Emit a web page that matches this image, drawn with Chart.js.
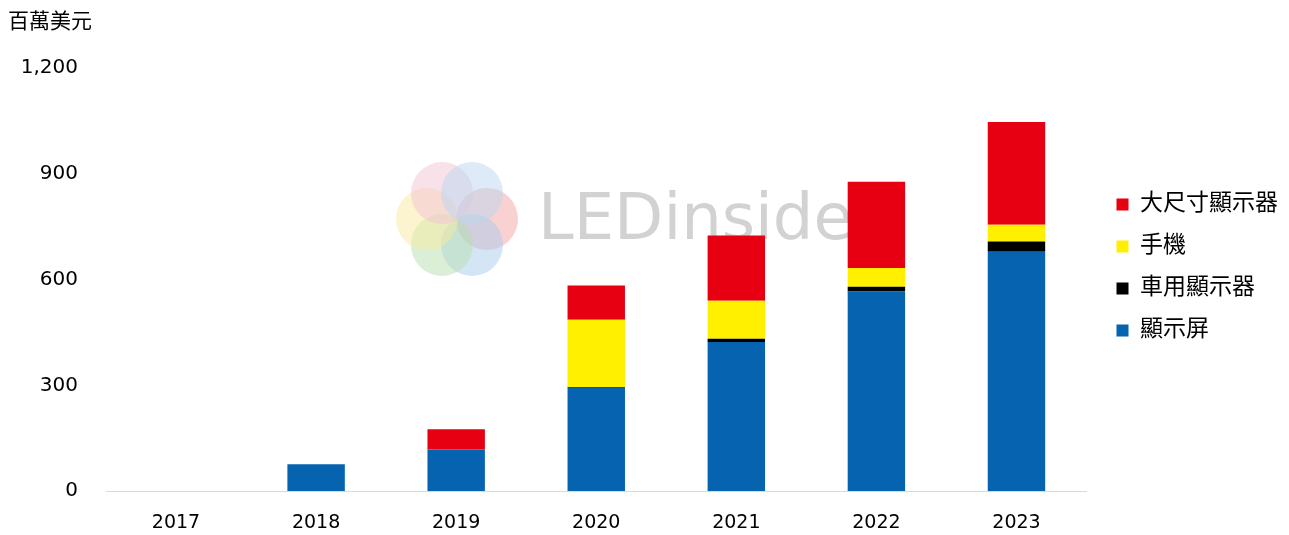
<!DOCTYPE html>
<html>
<head>
<meta charset="utf-8">
<script src="https://cdn.jsdelivr.net/npm/chart.js@4"></script>
<style>
  body { margin: 0; background: #fff; }
  #wrap { width: 1289px; height: 535px; }
</style>
</head>
<body>
<div id="wrap"><canvas id="myChart" width="1289" height="535"></canvas></div>
<script>
// data (million USD)
const years = ['2017', '2018', '2019', '2020', '2021', '2022', '2023'];
const displayScreen = [0, 76, 118, 293, 423, 566, 679];   // 顯示屏
const carDisplay = [0, 0, 0, 2, 9, 14, 29];               // 車用顯示器
const phone = [0, 0, 0, 191, 108, 53, 48];                // 手機
const largeDisplay = [0, 0, 57, 97, 185, 245, 291];       // 大尺寸顯示器
const yTicks = [0, 300, 600, 900, 1200];

const cjk = '"DejaVu Sans", "Noto Sans CJK TC", sans-serif';

// faint watermark behind the bars
const watermark = {
    id: 'watermark',
    beforeDatasetsDraw(chart) {
        const ctx = chart.ctx;
        ctx.save();
        const cx = 457, cy = 219;
        const cols = ['#f4a3a3', '#a9cdee', '#b8dfb0', '#f7e9a0', '#f4c3d6', '#b9d7f0'];
        for (let i = 0; i < 6; i++) {
            const a = i * Math.PI / 3;
            ctx.beginPath();
            ctx.fillStyle = cols[i];
            ctx.globalAlpha = 0.5;
            ctx.arc(cx + Math.cos(a) * 30, cy + Math.sin(a) * 30, 31, 0, Math.PI * 2);
            ctx.fill();
        }
        ctx.globalAlpha = 1;
        ctx.fillStyle = '#d2d2d2';
        ctx.font = '64px "DejaVu Sans", sans-serif';
        ctx.textBaseline = 'middle';
        ctx.fillText('LEDinside', 538, 222);
        ctx.restore();
    }
};

// widen the gap between plot and legend without changing row spacing
const legendGap = {
    id: 'legendGap',
    beforeLayout(chart) {
        const lg = chart.legend;
        if (lg && !lg._gapPatched) {
            const fit = lg.fit;
            lg.fit = function () {
                fit.call(this);
                this.width += 11;
            };
            lg._gapPatched = true;
        }
    },
    afterLayout(chart) {
        const lg = chart.legend;
        if (lg) {
            lg.left += 11;
            lg.right += 11;
        }
    }
};

const data = {
    labels: years,
    datasets: [
        { label: '顯示屏', data: displayScreen, backgroundColor: '#0563B0' },
        { label: '車用顯示器', data: carDisplay, backgroundColor: '#000000' },
        { label: '手機', data: phone, backgroundColor: '#FFF000' },
        { label: '大尺寸顯示器', data: largeDisplay, backgroundColor: '#E60012' }
    ]
};

const config = {
    type: 'bar',
    data: data,
    options: {
        responsive: false,
        animation: false,
        layout: { padding: { top: 0, right: 1, left: 8, bottom: 0 } },
        datasets: {
            bar: { categoryPercentage: 1, barPercentage: 0.41 }
        },
        plugins: {
            title: {
                display: true,
                text: '百萬美元',
                align: 'start',
                color: '#000',
                font: { family: cjk, size: 21, weight: 'normal' },
                padding: { top: 10, bottom: 33 }
            },
            legend: {
                display: true,
                position: 'right',
                reverse: true,
                labels: {
                    color: '#000',
                    boxWidth: 12,
                    boxHeight: 12,
                    padding: 19,
                    font: { family: cjk, size: 23 }
                }
            },
            tooltip: { enabled: false }
        },
        scales: {
            x: {
                stacked: true,
                grid: { display: false, drawTicks: false },
                border: { display: true, color: '#D9D9D9' },
                ticks: { color: '#000', font: { family: cjk, size: 19 }, padding: 21 },
                afterFit(scale) { scale.height = 44; }
            },
            y: {
                stacked: true,
                min: 0,
                max: 1200,
                afterBuildTicks(axis) { axis.ticks = yTicks.map(v => ({ value: v })); },
                afterFit(scale) { scale.width = 98; },
                grid: { display: false, drawTicks: false },
                border: { display: false },
                ticks: {
                    color: '#000',
                    font: { family: cjk, size: 20 },
                    padding: 28,
                    callback: v => v.toLocaleString('en-US')
                }
            }
        }
    },
    plugins: [watermark, legendGap]
};

const myChart = new Chart(document.getElementById('myChart'), config);
</script>
</body>
</html>
